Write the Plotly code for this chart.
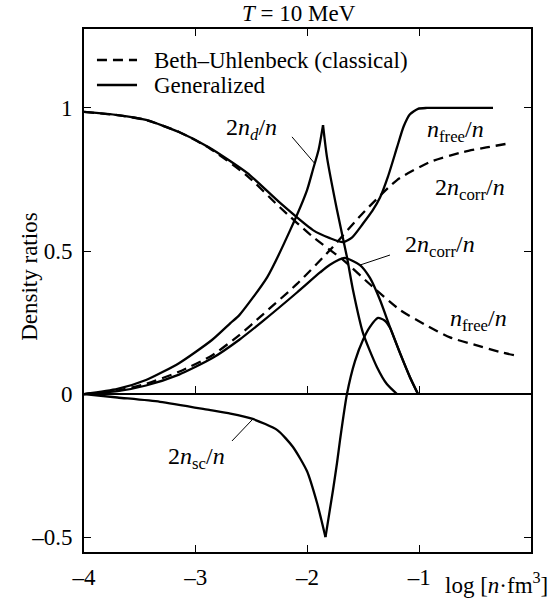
import plotly.graph_objects as go

# ---------------- data ----------------
# Beth-Uhlenbeck (classical), dashed
x_nfree_bu = [-4.0, -3.70, -3.445, -3.15, -2.88, -2.54, -2.245, -1.951, -1.682, -1.414, -1.172, -0.95, -0.725, -0.50, -0.277, -0.15]
y_nfree_bu = [0.986, 0.975, 0.958, 0.916, 0.860, 0.763, 0.652, 0.549, 0.469, 0.374, 0.294, 0.243, 0.198, 0.172, 0.147, 0.136]

x_ncorr_bu = [-4.0, -3.70, -3.445, -3.15, -2.855, -2.61, -2.40, -2.094, -1.80, -1.503, -1.199, -0.904, -0.608, -0.40, -0.2]
y_ncorr_bu = [0.0, 0.012, 0.036, 0.078, 0.135, 0.206, 0.278, 0.385, 0.503, 0.633, 0.748, 0.811, 0.846, 0.862, 0.876]

# Generalized, solid
x_nfree_gen = [-4.0, -3.70, -3.445, -3.15, -2.88, -2.54, -2.245, -1.951, -1.80, -1.682, -1.60, -1.503, -1.42, -1.351, -1.28, -1.199, -1.14, -1.083, -1.011, -0.931, -0.34]
y_nfree_gen = [0.986, 0.975, 0.958, 0.916, 0.862, 0.773, 0.668, 0.573, 0.545, 0.531, 0.548, 0.596, 0.640, 0.687, 0.760, 0.862, 0.935, 0.978, 0.997, 1.0, 1.0]

x_ncorr_gen = [-4.0, -3.70, -3.445, -3.15, -2.855, -2.61, -2.40, -2.094, -1.888, -1.799, -1.67, -1.53, -1.441, -1.351, -1.262, -1.172, -1.083, -1.011]
y_ncorr_gen = [0.0, 0.010, 0.030, 0.068, 0.125, 0.190, 0.255, 0.355, 0.425, 0.452, 0.476, 0.451, 0.406, 0.329, 0.234, 0.143, 0.059, 0.0]

x_nd = [-4.0, -3.70, -3.445, -3.15, -2.855, -2.69, -2.61, -2.36, -2.155, -2.004, -1.951, -1.90, -1.861,
        -1.826, -1.736, -1.647, -1.593, -1.503, -1.378, -1.29, -1.199]
y_nd = [0.0, 0.018, 0.049, 0.108, 0.189, 0.248, 0.276, 0.409, 0.573, 0.713, 0.785, 0.855, 0.94,
        0.829, 0.643, 0.479, 0.364, 0.213, 0.094, 0.035, 0.0]
nd_peak = 12

x_nsc = [-4.0, -3.70, -3.32, -2.87, -2.69, -2.49, -2.27, -2.13, -2.004, -1.915, -1.879, -1.839,
         -1.772, -1.736, -1.709, -1.647, -1.575, -1.503, -1.441, -1.369, -1.31, -1.262, -1.199, -1.172, -1.083, -1.011]
y_nsc = [0.0, -0.012, -0.027, -0.056, -0.068, -0.087, -0.126, -0.185, -0.270, -0.380, -0.435, -0.5,
         -0.336, -0.241, -0.161, 0.0, 0.115, 0.190, 0.235, 0.266, 0.257, 0.232, 0.170, 0.143, 0.059, 0.0]
nsc_min = 11

x_ticks = [-4, -3, -2, -1]
x_ticktext = ["–4", "–3", "–2", "–1"]
y_ticks = [-0.5, 0, 0.5, 1]
y_ticktext = ["–0.5", "0", "0.5", "1"]

X_RANGE = [-4.0, 0.0]
Y_RANGE = [-0.552, 1.276]

FONT = "Liberation Serif, Times New Roman, serif"
FS = 23
LW = 2.3
DASH = "10px,6px"

fig = go.Figure()

def add(x, y, dash=None, xaxis="x"):
    fig.add_trace(go.Scatter(
        x=x, y=y, mode="lines", xaxis=xaxis, yaxis="y",
        line=dict(color="black", width=LW, dash=dash, shape="spline", smoothing=0.6),
        showlegend=False, hoverinfo="skip"))

add(x_nfree_bu, y_nfree_bu, DASH)
add(x_ncorr_bu, y_ncorr_bu, DASH)
add(x_nfree_gen, y_nfree_gen)
add(x_ncorr_gen, y_ncorr_gen)
add(x_nd[:nd_peak + 1], y_nd[:nd_peak + 1])
add(x_nd[nd_peak:], y_nd[nd_peak:])
add(x_nsc[:nsc_min + 1], y_nsc[:nsc_min + 1], xaxis="x2")
add(x_nsc[nsc_min:], y_nsc[nsc_min:], xaxis="x2")

axis_common = dict(showgrid=False, zeroline=False, ticks="inside", ticklen=7, tickwidth=1.3,
                   tickcolor="black", showline=True, linecolor="black", linewidth=1.6,
                   tickfont=dict(family=FONT, size=FS, color="black"))

zero_pos = (0 - Y_RANGE[0]) / (Y_RANGE[1] - Y_RANGE[0])

fig.update_layout(
    width=554, height=605,
    margin=dict(l=84, r=23, t=29, b=53),
    paper_bgcolor="white", plot_bgcolor="white",
    xaxis=dict(range=X_RANGE, tickvals=x_ticks, ticktext=x_ticktext, mirror="ticks",
               ticklabelstandoff=4, **axis_common),
    xaxis2=dict(range=X_RANGE, overlaying="x", anchor="free", position=zero_pos, side="bottom",
                tickvals=x_ticks[1:], showticklabels=False, showgrid=False, zeroline=False,
                ticks="inside", ticklen=7, tickwidth=1.3, tickcolor="black",
                showline=True, linecolor="black", linewidth=1.5),
    yaxis=dict(range=Y_RANGE, tickvals=y_ticks, ticktext=y_ticktext, mirror="ticks",
               ticklabelstandoff=5, **axis_common),
    showlegend=False,
)

def ann(text, x, y, size=24, xref="x", yref="y", xanchor="center", yanchor="middle", angle=0):
    fig.add_annotation(text=text, x=x, y=y, xref=xref, yref=yref, showarrow=False,
                       xanchor=xanchor, yanchor=yanchor, textangle=angle,
                       font=dict(family=FONT, size=size, color="black"))

def leader(x0, y0, x1, y1):
    fig.add_shape(type="line", x0=x0, y0=y0, x1=x1, y1=y1, xref="x", yref="y",
                  line=dict(color="black", width=1))

# curve labels
ann("2<i>n</i><sub><i>d</i></sub>/<i>n</i>", -2.50, 0.925)
leader(-2.139, 0.899, -1.933, 0.805)
ann("<i>n</i><sub>free</sub>/<i>n</i>", -0.68, 0.92)
ann("2<i>n</i><sub>corr</sub>/<i>n</i>", -0.546, 0.717)
ann("2<i>n</i><sub>corr</sub>/<i>n</i>", -0.814, 0.517)
leader(-1.530, 0.451, -1.262, 0.486)
ann("<i>n</i><sub>free</sub>/<i>n</i>", -0.474, 0.259)
ann("2<i>n</i><sub>sc</sub>/<i>n</i>", -2.99, -0.224)
leader(-2.676, -0.164, -2.488, -0.087)

# title and axis titles
ann("<i>T</i> = 10 MeV", 0.48, 1.0287, size=FS, xref="paper", yref="paper")
ann("Density ratios", -0.121, 0.526, size=FS, xref="paper", yref="paper", angle=-90)
ann("log [<i>n</i>·fm<sup>3</sup>]", 1.0425, -0.0593, size=FS, xref="paper", yref="paper", xanchor="right")

# legend (drawn in paper coordinates)
leg_rows = [(0.9407, DASH, "Beth–Uhlenbeck (classical)"), (0.8929, None, "Generalized")]
for yy, dsh, label in leg_rows:
    fig.add_shape(type="line", x0=0.029, x1=0.1186, y0=yy, y1=yy, xref="paper", yref="paper",
                  line=dict(color="black", width=LW, dash=dsh))
    ann(label, 0.152, yy, size=FS, xref="paper", yref="paper", xanchor="left")

fig.write_html("out.html", config={"displayModeBar": False},
               post_script="document.body.style.margin='0px';")
